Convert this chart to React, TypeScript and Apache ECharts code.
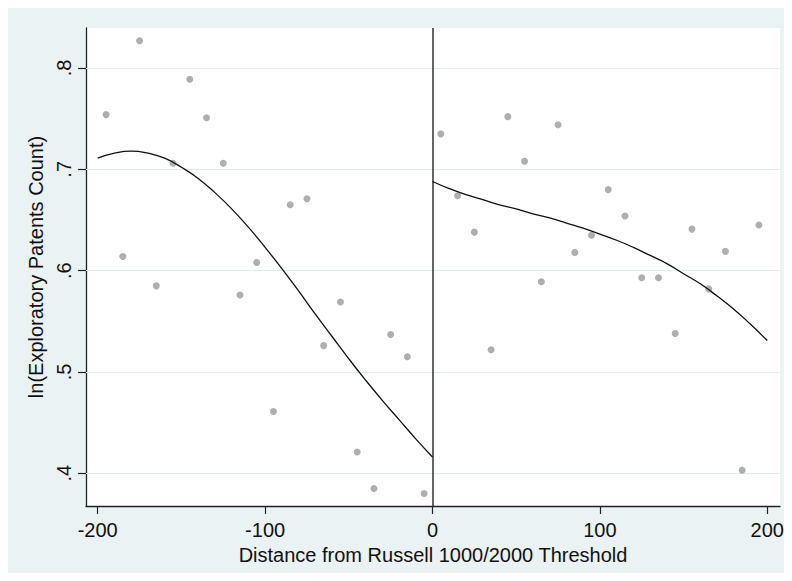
import React, { useEffect, useRef } from "react";
import * as echarts from "echarts";

// Binned scatter, left of threshold
const leftX = [-195, -185, -175, -165, -155, -145, -135, -125, -115, -105, -95, -85, -75, -65, -55, -45, -35, -25, -15, -5];
const leftY = [0.754, 0.614, 0.827, 0.585, 0.706, 0.789, 0.751, 0.706, 0.576, 0.608, 0.461, 0.665, 0.671, 0.526, 0.569, 0.421, 0.385, 0.537, 0.515, 0.380];

// Binned scatter, right of threshold
const rightX = [5, 15, 25, 35, 45, 55, 65, 75, 85, 95, 105, 115, 125, 135, 145, 155, 165, 175, 185, 195];
const rightY = [0.735, 0.674, 0.638, 0.522, 0.752, 0.708, 0.589, 0.744, 0.618, 0.635, 0.680, 0.654, 0.593, 0.593, 0.538, 0.641, 0.582, 0.619, 0.403, 0.645];

// Fitted curve, left
const fitLeftX = [-200, -190, -180, -170, -160, -150, -140, -130, -120, -110, -100, -90, -80, -70, -60, -50, -40, -30, -20, -10, 0];
const fitLeftY = [0.711, 0.716, 0.718, 0.716, 0.711, 0.702, 0.691, 0.677, 0.661, 0.643, 0.623, 0.602, 0.580, 0.557, 0.535, 0.513, 0.492, 0.472, 0.453, 0.434, 0.416];

// Fitted curve, right
const fitRightX = [0, 10, 20, 30, 40, 50, 60, 70, 80, 90, 100, 110, 120, 130, 140, 150, 160, 170, 180, 190, 200];
const fitRightY = [0.688, 0.681, 0.675, 0.670, 0.665, 0.661, 0.656, 0.652, 0.647, 0.642, 0.636, 0.630, 0.623, 0.615, 0.607, 0.597, 0.587, 0.575, 0.562, 0.547, 0.531];

const xTicks = [-200, -100, 0, 100, 200];
const yTicks = [0.4, 0.5, 0.6, 0.7, 0.8];

const xTitle = "Distance from Russell 1000/2000 Threshold";
const yTitle = "ln(Exploratory Patents Count)";

const FONT = "'Liberation Sans', Arial, sans-serif";

export default function App() {
  const ref = useRef<HTMLDivElement>(null);

  useEffect(() => {
    if (!ref.current) return;
    const chart = echarts.init(ref.current, undefined, { renderer: "svg" });
    const zip = (xs: number[], ys: number[]) => xs.map((x, i) => [x, ys[i]]);

    chart.setOption({
      animation: false,
      backgroundColor: "#EAF2F3",
      textStyle: { fontFamily: FONT },
      grid: { left: 78, top: 20, right: 12, bottom: 75, show: true, backgroundColor: "#FFFFFF", borderWidth: 0 },
      xAxis: {
        type: "value",
        min: -207,
        max: 207.6,
        name: xTitle,
        nameLocation: "middle",
        nameGap: 32,
        nameTextStyle: { fontSize: 20, color: "#111", fontFamily: FONT },
        axisLine: { show: true, onZero: false, lineStyle: { color: "#222", width: 1.3 } },
        axisTick: { show: true, length: 8, customValues: xTicks, lineStyle: { color: "#222", width: 1.2 } },
        axisLabel: { customValues: xTicks, fontSize: 20, color: "#111", margin: 14, fontFamily: FONT },
        splitLine: { show: false },
      },
      yAxis: {
        type: "value",
        min: 0.3677,
        max: 0.8395,
        name: yTitle,
        nameLocation: "middle",
        nameRotate: 90,
        nameGap: 32,
        nameTextStyle: { fontSize: 20, color: "#111", fontFamily: FONT },
        axisLine: { show: true, onZero: false, lineStyle: { color: "#222", width: 1.3 } },
        axisTick: { show: true, length: 8, customValues: yTicks, lineStyle: { color: "#222", width: 1.2 } },
        axisLabel: {
          customValues: yTicks,
          rotate: 90,
          fontSize: 20,
          color: "#111",
          margin: 12,
          fontFamily: FONT,
          formatter: (v: number) => String(Math.round(v * 10) / 10).replace(/^0\./, "."),
        },
        splitLine: { show: false },
      },
      series: [
        {
          type: "scatter",
          data: zip(leftX, leftY),
          symbolSize: 7,
          itemStyle: { color: "#9B9B9B" },
          z: 3,
          markLine: {
            silent: true,
            symbol: "none",
            label: { show: false },
            lineStyle: { color: "#E3ECEF", width: 1, type: "solid" },
            data: yTicks.map((v) => ({ yAxis: v })),
            z: 1,
          },
        },
        {
          type: "scatter",
          data: zip(rightX, rightY),
          symbolSize: 7,
          itemStyle: { color: "#9B9B9B" },
          z: 3,
          markLine: {
            silent: true,
            symbol: "none",
            label: { show: false },
            lineStyle: { color: "#333", width: 1.5, type: "solid" },
            data: [{ xAxis: 0 }],
            z: 4,
          },
        },
        {
          type: "line",
          data: zip(fitLeftX, fitLeftY),
          showSymbol: false,
          smooth: true,
          lineStyle: { color: "#111", width: 1.3 },
          z: 5,
        },
        {
          type: "line",
          data: zip(fitRightX, fitRightY),
          showSymbol: false,
          smooth: true,
          lineStyle: { color: "#111", width: 1.3 },
          z: 5,
        },
      ],
    });

    return () => chart.dispose();
  }, []);

  return <div ref={ref} style={{ width: 784, height: 573, marginBottom: -8 }} />;
}
